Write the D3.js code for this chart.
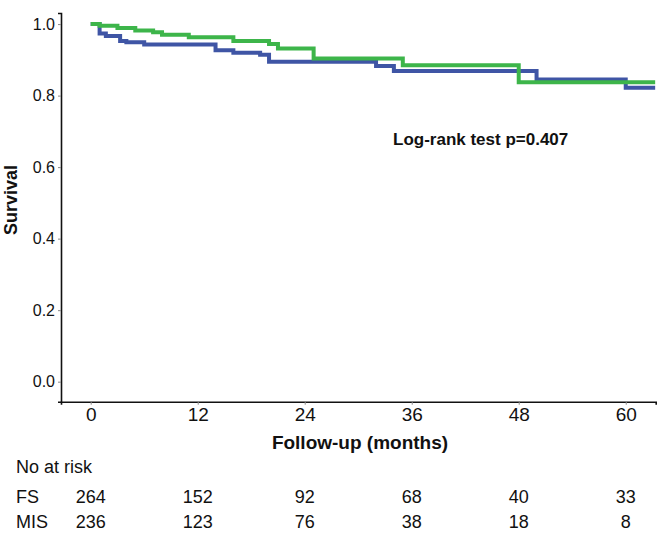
<!DOCTYPE html>
<html><head><meta charset="utf-8">
<script src="https://cdn.jsdelivr.net/npm/d3@7"></script>
<style>body{margin:0;background:#fff}svg{display:block;font-family:Arial,"Liberation Sans",sans-serif}</style>
</head><body><svg id="c" width="666" height="533"></svg>
<script>
// Kaplan-Meier step data: [month, survival after step]
const fsSteps = [[0,1.0],[1,0.995],[3,0.989],[5,0.982],[7,0.977],[8,0.970],[11,0.963],[16,0.953],[20,0.944],[21,0.932],[25,0.904],[35,0.885],[48,0.837]];
const misSteps = [[0,1.0],[1,0.974],[1.7,0.967],[3.3,0.953],[4,0.949],[6,0.943],[14,0.927],[16,0.920],[19,0.914],[20,0.895],[32,0.883],[34,0.869],[50,0.845],[60,0.822]];
const endMonth = 63.3;
const xTicks = [0,12,24,36,48,60];
const yTicks = [0,0.2,0.4,0.6,0.8,1.0];
const groups = ["FS","MIS"];
const fsAtRisk = [264,152,92,68,40,33];
const misAtRisk = [236,123,76,38,18,8];
const colors = {FS:"#3DB54A", MIS:"#3F55A5"};

const svg = d3.select("#c");
const x = d3.scaleLinear().domain([-3.33, 63.36]).range([61, 655.7]);
const y = d3.scaleLinear().domain([-0.056, 1.031]).range([401.7, 13]);

// axes
const xAxis = d3.axisBottom(x).tickValues(xTicks).tickSize(3).tickPadding(3).tickFormat(d3.format("d"));
const gx = svg.append("g").attr("transform","translate(0,401.7)").call(xAxis);
gx.select(".domain").attr("stroke","#111").attr("stroke-width",1.6);
gx.selectAll(".tick line").attr("stroke","#888");
gx.selectAll(".tick text").attr("font-size",19).attr("fill","#111").attr("dy","0.72em");

const yAxis = d3.axisLeft(y).tickValues(yTicks).tickSize(3).tickPadding(3).tickFormat(d3.format(".1f"));
const gy = svg.append("g").attr("transform","translate(61,0)").call(yAxis);
gy.select(".domain").attr("stroke","#111").attr("stroke-width",1.6);
gy.selectAll(".tick line").attr("stroke","#888");
gy.selectAll(".tick text").attr("font-size",16).attr("fill","#111");

// curves
const line = d3.line().x(d=>x(d[0])).y(d=>y(d[1])).curve(d3.curveStepAfter);
function withEnd(s){ return s.concat([[endMonth, s[s.length-1][1]]]); }
[["MIS",misSteps],["FS",fsSteps]].forEach(([g,s])=>{
  svg.append("path").datum(withEnd(s)).attr("d",line)
    .attr("fill","none").attr("stroke",colors[g]).attr("stroke-width",4);
});

// labels
svg.append("text").attr("x",393).attr("y",145).attr("font-size",17).attr("font-weight","bold").attr("fill","#111").text("Log-rank test p=0.407");
svg.append("text").attr("transform","translate(11,200) rotate(-90)").attr("text-anchor","middle").attr("dominant-baseline","central")
  .attr("font-size",18).attr("font-weight","bold").attr("fill","#111").text("Survival");
svg.append("text").attr("x",360).attr("y",449).attr("text-anchor","middle").attr("font-size",19).attr("font-weight","bold").attr("fill","#111").text("Follow-up (months)");

// at-risk table
svg.append("text").attr("x",16).attr("y",473).attr("font-size",18).attr("fill","#111").text("No at risk");
const rows = [fsAtRisk, misAtRisk];
const rowY = [503, 528];
groups.forEach((g,i)=>{
  svg.append("text").attr("x",16).attr("y",rowY[i]).attr("font-size",18).attr("fill","#111").text(g);
  svg.selectAll(null).data(rows[i]).enter().append("text")
    .attr("x",(d,j)=>x(xTicks[j])).attr("y",rowY[i]).attr("text-anchor","middle")
    .attr("font-size",18).attr("fill","#111").text(d=>d);
});
</script></body></html>
